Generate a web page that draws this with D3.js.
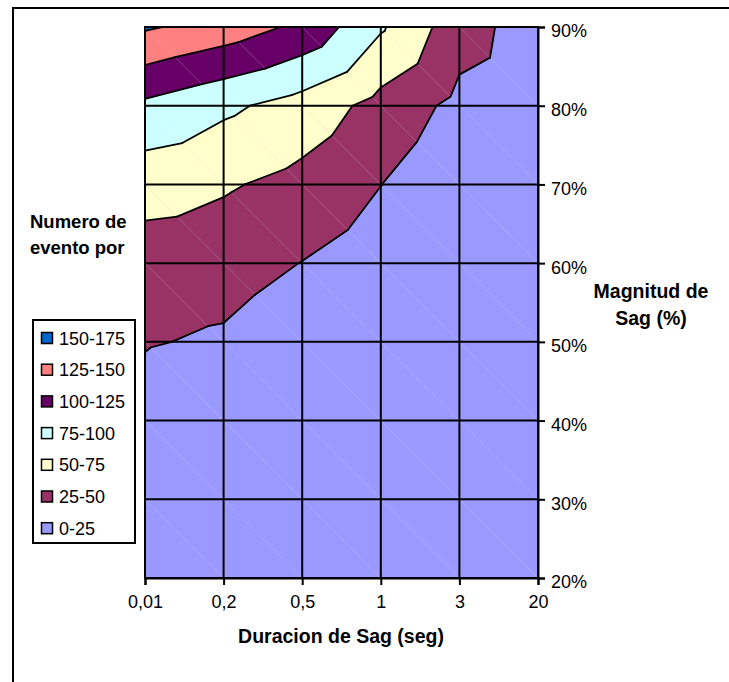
<!DOCTYPE html>
<html>
<head>
<meta charset="utf-8">
<script src="https://cdn.jsdelivr.net/npm/d3@7"></script>
<style>
  html, body { margin: 0; padding: 0; background: #fff; }
  svg { display: block; font-family: "Liberation Sans", Arial, sans-serif; }
</style>
</head>
<body>
<svg id="chart" width="729" height="682"></svg>
<script>
// Duration categories (x) and sag magnitudes (y)
const duraciones = ["0,01", "0,2", "0,5", "1", "3", "20"];
const magnitudes = [0.2, 0.3, 0.4, 0.5, 0.6, 0.7, 0.8, 0.9];

// Number of events at each magnitude row, one value per duration
const eventos20 = [4, 1, 1, 0, 0, 0];
const eventos30 = [8, 2, 1, 1, 0, 0];
const eventos40 = [14, 3, 2, 1, 1, 0];
const eventos50 = [26.7, 21.7, 9.3, 6, 3, 2];
const eventos60 = [38.3, 35.5, 24.5, 12.4, 4, 2];
const eventos70 = [60, 52.8, 42.4, 25.3, 5.6, 4];
const eventos80 = [95, 80, 65, 41.5, 18.2, 8.7];
const eventos90 = [153, 139.2, 119.5, 78, 35.4, 12.5];

// Contour bands
const bandas = ["0-25", "25-50", "50-75", "75-100", "100-125", "125-150", "150-175"];
const umbrales = [0, 25, 50, 75, 100, 125, 150];
const colores = ["#9999FF", "#993366", "#FFFFCC", "#CCFFFF", "#660066", "#FF8080", "#0066CC"];

const rows = [eventos20, eventos30, eventos40, eventos50, eventos60, eventos70, eventos80, eventos90];

const svg = d3.select("#chart");
const plot = { left: 145, right: 538, top: 27, bottom: 578 };

const x = d3.scalePoint().domain(duraciones).range([plot.left, plot.right]).padding(0);
const y = d3.scaleLinear().domain([0.2, 0.9]).range([plot.bottom, plot.top]);

// Outer frame
svg.append("path")
  .attr("d", `M13,682 L13,8 L729,8`)
  .attr("fill", "none").attr("stroke", "#000").attr("stroke-width", 2);

// Grid nodes
const node = (i, j) => ({ px: x(duraciones[i]), py: y(magnitudes[j]), z: rows[j][i] });

// Each cell is split along its top-left to bottom-right diagonal
const triangles = [];
for (let j = 0; j < magnitudes.length - 1; j++) {
  for (let i = 0; i < duraciones.length - 1; i++) {
    const tl = node(i, j + 1), tr = node(i + 1, j + 1), bl = node(i, j), br = node(i + 1, j);
    triangles.push([tl, tr, br]);
    triangles.push([tl, bl, br]);
  }
}

function lerp(a, b, t) {
  return { px: a.px + (b.px - a.px) * t, py: a.py + (b.py - a.py) * t, z: a.z + (b.z - a.z) * t };
}

// Part of a triangle where z >= level
function clipAbove(poly, level) {
  const out = [];
  for (let k = 0; k < poly.length; k++) {
    const a = poly[k], b = poly[(k + 1) % poly.length];
    const ain = a.z >= level, bin = b.z >= level;
    if (ain) out.push(a);
    if (ain !== bin) out.push(lerp(a, b, (level - a.z) / (b.z - a.z)));
  }
  return out;
}

const line = d3.line().x(d => d.px).y(d => d.py);

const gFill = svg.append("g");
gFill.append("rect")
  .attr("x", plot.left).attr("y", plot.top)
  .attr("width", plot.right - plot.left).attr("height", plot.bottom - plot.top)
  .attr("fill", colores[0]);

umbrales.forEach((lvl, k) => {
  if (k === 0) return;
  triangles.forEach(tri => {
    const p = clipAbove(tri, lvl);
    if (p.length >= 3) {
      gFill.append("path")
        .attr("d", line(p) + "Z")
        .attr("fill", colores[k])
        .attr("stroke", colores[k])
        .attr("stroke-width", 0.6)
        .attr("stroke-linejoin", "round");
    }
  });
});

// Faint cell diagonals
const gDiag = svg.append("g");
for (let j = 0; j < magnitudes.length - 1; j++) {
  for (let i = 0; i < duraciones.length - 1; i++) {
    const tl = node(i, j + 1), br = node(i + 1, j);
    gDiag.append("path")
      .attr("d", line([tl, br]))
      .attr("stroke", "#fff").attr("stroke-opacity", 0.22).attr("stroke-width", 0.8);
  }
}

// Contour lines
const gCont = svg.append("g");
umbrales.forEach((lvl, k) => {
  if (k === 0) return;
  triangles.forEach(tri => {
    const pts = [];
    for (let e = 0; e < 3; e++) {
      const a = tri[e], b = tri[(e + 1) % 3];
      if ((a.z >= lvl) !== (b.z >= lvl)) pts.push(lerp(a, b, (lvl - a.z) / (b.z - a.z)));
    }
    if (pts.length === 2) {
      gCont.append("path")
        .attr("d", line(pts))
        .attr("fill", "none")
        .attr("stroke", "#000").attr("stroke-width", 1.8).attr("stroke-linecap", "round");
    }
  });
});

// Grid
const gGrid = svg.append("g").attr("stroke", "#000").attr("stroke-width", 2);
magnitudes.forEach(m => {
  gGrid.append("line").attr("x1", plot.left).attr("x2", plot.right).attr("y1", y(m)).attr("y2", y(m));
});
duraciones.forEach(d => {
  gGrid.append("line").attr("x1", x(d)).attr("x2", x(d)).attr("y1", plot.top).attr("y2", plot.bottom);
});
svg.append("rect")
  .attr("x", plot.left).attr("y", plot.top)
  .attr("width", plot.right - plot.left).attr("height", plot.bottom - plot.top)
  .attr("fill", "none").attr("stroke", "#000").attr("stroke-width", 2);

// Axes
const yAxis = d3.axisRight(y).tickValues(magnitudes).tickFormat(d3.format(".0%")).tickSize(7).tickPadding(6);
const gy = svg.append("g").attr("transform", `translate(${plot.right},0)`).call(yAxis);
const xAxis = d3.axisBottom(x).tickSize(7).tickPadding(10);
const gx = svg.append("g").attr("transform", `translate(0,${plot.bottom})`).call(xAxis);
[gx, gy].forEach(g => {
  g.select(".domain").attr("stroke", "#000").attr("stroke-width", 2);
  g.selectAll(".tick line").attr("stroke", "#000").attr("stroke-width", 2);
  g.selectAll(".tick text").attr("fill", "#000").style("font-size", "18px")
    .style("font-family", "'Liberation Sans', Arial, sans-serif");
});
gy.selectAll(".tick text").attr("dy", "0.55em");

// Titles
svg.append("text").attr("x", 341).attr("y", 643).attr("text-anchor", "middle")
  .style("font-size", "19.5px").style("font-weight", "bold").text("Duracion de Sag (seg)");
svg.append("text").attr("x", 651).attr("y", 298).attr("text-anchor", "middle")
  .style("font-size", "19.5px").style("font-weight", "bold").text("Magnitud de");
svg.append("text").attr("x", 651).attr("y", 325).attr("text-anchor", "middle")
  .style("font-size", "19.5px").style("font-weight", "bold").text("Sag (%)");
svg.append("text").attr("x", 30).attr("y", 228)
  .style("font-size", "18.5px").style("font-weight", "bold").text("Numero de");
svg.append("text").attr("x", 30).attr("y", 254)
  .style("font-size", "18.5px").style("font-weight", "bold").text("evento por");

// Legend
const legend = svg.append("g");
legend.append("rect").attr("x", 33).attr("y", 320).attr("width", 102).attr("height", 223)
  .attr("fill", "#fff").attr("stroke", "#000").attr("stroke-width", 2);
const order = d3.range(bandas.length).reverse();
order.forEach((k, n) => {
  const cy = 338 + n * 31.7;
  legend.append("rect").attr("x", 41.5).attr("y", cy - 5.5).attr("width", 11).attr("height", 11)
    .attr("fill", colores[k]).attr("stroke", "#000").attr("stroke-width", 1.5);
  legend.append("text").attr("x", 59).attr("y", cy + 6.5)
    .style("font-size", "18px").text(bandas[k]);
});
</script>
</body>
</html>
